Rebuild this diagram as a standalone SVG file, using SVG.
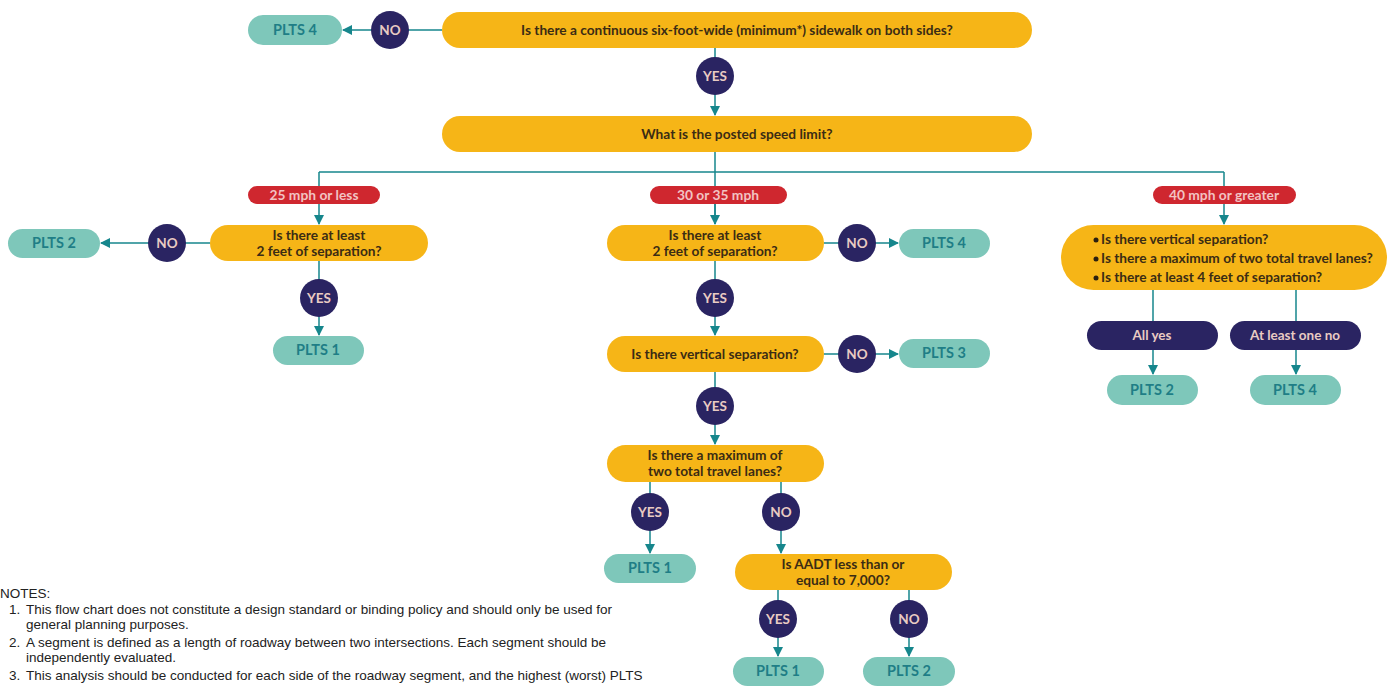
<svg xmlns="http://www.w3.org/2000/svg" width="1391" height="687" viewBox="0 0 1391 687">
<defs>
<marker id="ah" viewBox="0 0 10 10" refX="9" refY="5" markerWidth="10" markerHeight="10" markerUnits="userSpaceOnUse" orient="auto">
<path d="M0,0 L10,5 L0,10 z" fill="#16868c"/>
</marker>
<style>
.q{fill:#f6b517}
.qt{font-family:Lato,"Open Sans",sans-serif;font-weight:bold;font-size:13.7px;fill:#3b2c14;text-anchor:middle}
.r{fill:#7ec7ba}
.rt{font-family:Lato,"Open Sans",sans-serif;font-weight:bold;font-size:14.5px;fill:#1f7e86;text-anchor:middle}
.c{fill:#2a2462}
.ct{font-family:Lato,"Open Sans",sans-serif;font-weight:bold;font-size:13.5px;fill:#e9cbc3;text-anchor:middle}
.s{fill:#cf272f}
.st{font-family:Lato,"Open Sans",sans-serif;font-weight:bold;font-size:13.8px;fill:#f2c3c3;text-anchor:middle}
.ln{stroke:#16868c;stroke-width:1.5;fill:none}
.a{marker-end:url(#ah)}
.n{font-family:"Liberation Sans",Arial,sans-serif;font-size:13.5px;fill:#222}
</style>
</defs>
<rect width="1391" height="687" fill="#fff"/>
<g id="connectors">
<path class="ln a" d="M442,30 H343"/>
<path class="ln a" d="M715,48 V115"/>
<path class="ln" d="M715,152 V224"/>
<path class="ln" d="M319,172 H1224"/>
<path class="ln" d="M319,172 V186 M1224,172 V186"/>
<path class="ln a" d="M319,204 V224"/>
<path class="ln a" d="M1224,204 V224"/>
<path class="ln a" d="M715,204 V224"/>
<path class="ln a" d="M210,243 H101"/>
<path class="ln a" d="M319,261 V335"/>
<path class="ln a" d="M824,243 H898"/>
<path class="ln a" d="M715,261 V335"/>
<path class="ln a" d="M824,354 H898"/>
<path class="ln a" d="M715,372 V444"/>
<path class="ln a" d="M650,482 V553"/>
<path class="ln a" d="M781,482 V553"/>
<path class="ln a" d="M778,590 V656"/>
<path class="ln a" d="M909,590 V656"/>
<path class="ln a" d="M1153,290 V374"/>
<path class="ln a" d="M1296,290 V374"/>
</g>
<g id="q-sidewalk"><rect class="q" x="442" y="12" width="590" height="36" rx="18"/><text class="qt" x="737" y="35">Is there a continuous six-foot-wide (minimum*) sidewalk on both sides?</text></g>
<g id="no-top"><circle class="c" cx="390" cy="30" r="19"/><text class="ct" x="390" y="35">NO</text></g>
<g id="plts4-top"><rect class="r" x="248" y="15" width="94" height="30" rx="15"/><text class="rt" x="295" y="35">PLTS 4</text></g>
<g id="yes-top"><circle class="c" cx="715" cy="76" r="19"/><text class="ct" x="715" y="81">YES</text></g>
<g id="q-speed"><rect class="q" x="442" y="116" width="590" height="36" rx="18"/><text class="qt" x="737" y="139">What is the posted speed limit?</text></g>

<g id="s25"><rect class="s" x="248" y="186" width="132" height="18" rx="9"/><text class="st" x="314" y="200">25 mph or less</text></g>
<g id="s30"><rect class="s" x="650" y="186" width="137" height="18" rx="9"/><text class="st" x="718" y="200">30 or 35 mph</text></g>
<g id="s40"><rect class="s" x="1153" y="186" width="143" height="18" rx="9"/><text class="st" x="1224" y="200">40 mph or greater</text></g>

<g id="q-left"><rect class="q" x="210" y="225" width="218" height="36" rx="18"/><text class="qt" x="319" y="240">Is there at least</text><text class="qt" x="319" y="256">2 feet of separation?</text></g>
<g id="no-left"><circle class="c" cx="167" cy="243" r="19"/><text class="ct" x="167" y="248">NO</text></g>
<g id="plts2-left"><rect class="r" x="8" y="229" width="92" height="29" rx="14.5"/><text class="rt" x="54" y="248">PLTS 2</text></g>
<g id="yes-left"><circle class="c" cx="319" cy="298" r="19"/><text class="ct" x="319" y="303">YES</text></g>
<g id="plts1-left"><rect class="r" x="273" y="336" width="91" height="29" rx="14.5"/><text class="rt" x="318" y="355">PLTS 1</text></g>

<g id="q-mid1"><rect class="q" x="607" y="225" width="217" height="36" rx="18"/><text class="qt" x="715" y="240">Is there at least</text><text class="qt" x="715" y="256">2 feet of separation?</text></g>
<g id="no-mid1"><circle class="c" cx="857" cy="243" r="19"/><text class="ct" x="857" y="248">NO</text></g>
<g id="plts4-mid"><rect class="r" x="899" y="229" width="91" height="29" rx="14.5"/><text class="rt" x="944" y="248">PLTS 4</text></g>
<g id="yes-mid1"><circle class="c" cx="715" cy="298" r="19"/><text class="ct" x="715" y="303">YES</text></g>
<g id="q-mid2"><rect class="q" x="607" y="336" width="217" height="36" rx="18"/><text class="qt" x="715" y="359">Is there vertical separation?</text></g>
<g id="no-mid2"><circle class="c" cx="857" cy="354" r="19"/><text class="ct" x="857" y="359">NO</text></g>
<g id="plts3-mid"><rect class="r" x="899" y="339" width="91" height="29" rx="14.5"/><text class="rt" x="944" y="358">PLTS 3</text></g>
<g id="yes-mid2"><circle class="c" cx="715" cy="406" r="19"/><text class="ct" x="715" y="411">YES</text></g>
<g id="q-mid3"><rect class="q" x="607" y="445" width="217" height="37" rx="18.5"/><text class="qt" x="715" y="460">Is there a maximum of</text><text class="qt" x="715" y="476">two total travel lanes?</text></g>
<g id="yes-mid3"><circle class="c" cx="650" cy="512" r="19"/><text class="ct" x="650" y="517">YES</text></g>
<g id="no-mid3"><circle class="c" cx="781" cy="512" r="19"/><text class="ct" x="781" y="517">NO</text></g>
<g id="plts1-mid"><rect class="r" x="604" y="554" width="92" height="29" rx="14.5"/><text class="rt" x="650" y="573">PLTS 1</text></g>
<g id="q-aadt"><rect class="q" x="735" y="554" width="217" height="36" rx="18"/><text class="qt" x="843" y="569">Is AADT less than or</text><text class="qt" x="843" y="585">equal to 7,000?</text></g>
<g id="yes-aadt"><circle class="c" cx="778" cy="619" r="19"/><text class="ct" x="778" y="624">YES</text></g>
<g id="no-aadt"><circle class="c" cx="909" cy="619" r="19"/><text class="ct" x="909" y="624">NO</text></g>
<g id="plts1-aadt"><rect class="r" x="733" y="657" width="91" height="29" rx="14.5"/><text class="rt" x="778" y="676">PLTS 1</text></g>
<g id="plts2-aadt"><rect class="r" x="863" y="657" width="92" height="29" rx="14.5"/><text class="rt" x="909" y="676">PLTS 2</text></g>

<g id="q-right"><rect class="q" x="1061" y="225" width="326" height="65" rx="32.5"/>
<circle cx="1096" cy="240" r="2.5" fill="#2a2010"/><circle cx="1096" cy="259" r="2.5" fill="#2a2010"/><circle cx="1096" cy="278" r="2.5" fill="#2a2010"/>
<text class="qt" x="1101" y="244" style="text-anchor:start">Is there vertical separation?</text>
<text class="qt" x="1101" y="263" style="text-anchor:start">Is there a maximum of two total travel lanes?</text>
<text class="qt" x="1101" y="282" style="text-anchor:start">Is there at least 4 feet of separation?</text></g>
<g id="allyes"><rect class="c" x="1087" y="321" width="131" height="29" rx="14.5"/><text class="ct" x="1152" y="340">All yes</text></g>
<g id="oneno"><rect class="c" x="1230" y="321" width="131" height="29" rx="14.5"/><text class="ct" x="1295" y="340">At least one no</text></g>
<g id="plts2-right"><rect class="r" x="1107" y="375" width="91" height="30" rx="15"/><text class="rt" x="1152" y="395">PLTS 2</text></g>
<g id="plts4-right"><rect class="r" x="1250" y="375" width="91" height="30" rx="15"/><text class="rt" x="1295" y="395">PLTS 4</text></g>

<g id="notes">
<text class="n" x="0" y="598">NOTES:</text>
<text class="n" x="9" y="614">1.</text><text class="n" x="26" y="614">This flow chart does not constitute a design standard or binding policy and should only be used for</text>
<text class="n" x="26" y="629">general planning purposes.</text>
<text class="n" x="9" y="647">2.</text><text class="n" x="26" y="647">A segment is defined as a length of roadway between two intersections. Each segment should be</text>
<text class="n" x="26" y="662">independently evaluated.</text>
<text class="n" x="9" y="680">3.</text><text class="n" x="26" y="680">This analysis should be conducted for each side of the roadway segment, and the highest (worst) PLTS</text>
</g>
</svg>
